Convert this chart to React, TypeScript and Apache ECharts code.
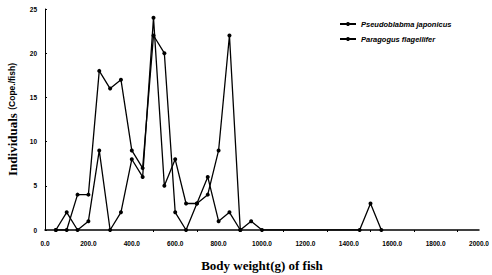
import React, { useEffect, useRef } from "react";
import * as echarts from "echarts";

const seriesNames = ["Pseudoblabma japonicus", "Paragogus flagellifer"];

const weights1 = [50, 100, 150, 200, 250, 300, 350, 400, 450, 500, 550, 600, 650, 700, 750, 800, 850, 900, 950, 1000, 1450, 1500, 1550];
const values1 = [0, 2, 0, 1, 9, 0, 2, 8, 6, 24, 5, 8, 3, 3, 4, 9, 22, 0, 1, 0, 0, 3, 0];

const weights2 = [50, 100, 150, 200, 250, 300, 350, 400, 450, 500, 550, 600, 650, 700, 750, 800, 850, 900];
const values2 = [0, 0, 4, 4, 18, 16, 17, 9, 7, 22, 20, 2, 0, 3, 6, 1, 2, 0];

const yTicks = [0, 5, 10, 15, 20, 25];

export default function App() {
  const ref = useRef<HTMLDivElement>(null);
  useEffect(() => {
    if (!ref.current) return;
    const chart = echarts.init(ref.current, null, { renderer: "svg" });
    const mk = (w: number[], v: number[]) => w.map((x, i) => [x, v[i]]);
    chart.setOption({
      animation: false,
      backgroundColor: "#fff",
      grid: { left: 45, right: 13, top: 9, bottom: 45, outerBoundsMode: "none", containLabel: false },
      legend: {
        orient: "vertical",
        left: 334,
        top: 15,
        itemWidth: 16,
        itemHeight: 5,
        itemGap: 7,
        data: seriesNames,
        textStyle: {
          fontFamily: "Liberation Sans",
          fontStyle: "italic",
          fontWeight: "bold",
          fontSize: 7.5,
          color: "#000",
        },
      },
      xAxis: {
        type: "value",
        min: 0,
        max: 2000,
        interval: 200,
        name: "Body weight(g) of fish",
        nameLocation: "middle",
        nameGap: 29,
        nameTextStyle: { fontFamily: "Liberation Serif", fontWeight: "bold", fontSize: 13, color: "#000" },
        axisLine: { lineStyle: { color: "#000", width: 1.5 } },
        axisTick: { show: false },
        minorTick: { show: true, splitNumber: 2, length: 2, lineStyle: { color: "#000" } },
        splitLine: { show: false },
        axisLabel: {
          formatter: (v: number) => v.toFixed(1),
          fontFamily: "Liberation Sans",
          fontWeight: "bold",
          fontSize: 6.5,
          color: "#000",
          margin: 10,
        },
      },
      yAxis: {
        type: "value",
        min: yTicks[0],
        max: yTicks[yTicks.length - 1],
        interval: 5,
        name: "{a|Individuals} {b|(Cope./fish)}",
        nameLocation: "middle",
        nameRotate: 90,
        nameGap: 24,
        nameTextStyle: {
          rich: {
            a: { fontFamily: "Liberation Serif", fontWeight: "bold", fontSize: 13, color: "#000" },
            b: { fontFamily: "Liberation Sans", fontWeight: "bold", fontSize: 8.5, color: "#000" },
          },
        },
        axisLine: { show: true, lineStyle: { color: "#000", width: 1 } },
        axisTick: { show: true, length: 2, inside: true, lineStyle: { color: "#000" } },
        splitLine: { show: false },
        axisLabel: {
          fontFamily: "Liberation Sans",
          fontWeight: "bold",
          fontSize: 6.5,
          color: "#000",
          margin: 8,
        },
      },
      series: [
        {
          name: seriesNames[0],
          type: "line",
          data: mk(weights1, values1),
          symbol: "circle",
          symbolSize: 4,
          lineStyle: { color: "#000", width: 1.3 },
          itemStyle: { color: "#000" },
        },
        {
          name: seriesNames[1],
          type: "line",
          data: mk(weights2, values2),
          symbol: "circle",
          symbolSize: 4,
          lineStyle: { color: "#000", width: 1.3 },
          itemStyle: { color: "#000" },
        },
      ],
    });
    return () => chart.dispose();
  }, []);
  return <div ref={ref} style={{ width: 492, height: 275, position: "absolute", left: 0, top: 0 }} />;
}
